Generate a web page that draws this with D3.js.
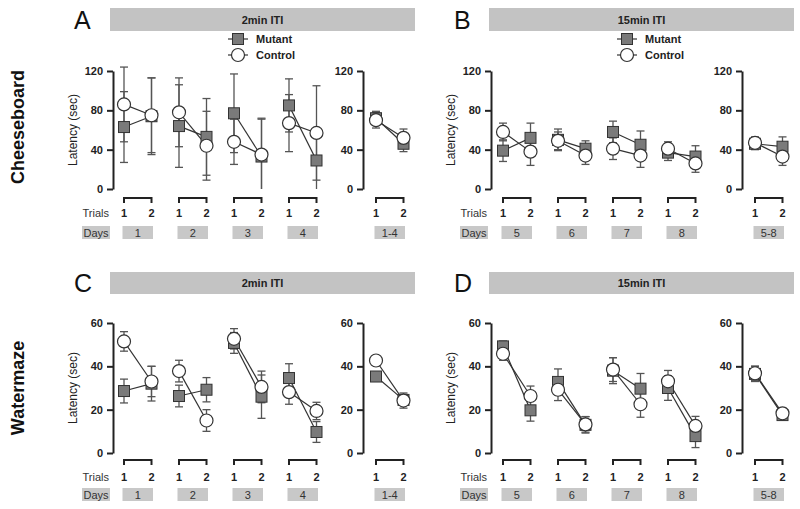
<!DOCTYPE html>
<html><head><meta charset="utf-8">
<script src="https://cdn.jsdelivr.net/npm/d3@7"></script>
<style>body{margin:0;background:#fff}svg{display:block}text{font-family:Arial,"Liberation Sans",Helvetica,sans-serif}</style>
</head><body>
<svg id="c" width="800" height="509"></svg>
<script>
// ---------------- DATA ----------------
const trialLabels = ["1", "2"];
const daysEarly = ["1", "2", "3", "4"];
const daysLate = ["5", "6", "7", "8"];
const summaryEarly = "1-4";
const summaryLate = "5-8";
const seriesNames = ["Mutant", "Control"];
const itiLabels = ["2min ITI", "15min ITI"];
const rowLabels = ["Cheeseboard", "Watermaze"];
const cheeseTicks = [0, 40, 80, 120];
const waterTicks = [0, 20, 40, 60];

// Cheeseboard 2min ITI (days 1-4, trial 1/2 per day)
const cbMutant2 = [63, 74, 64, 53, 77, 33, 85, 29];
const cbMutant2Err = [36, 39, 42, 39, 40, 38, 27, 30];
const cbControl2 = [86, 75, 78, 44, 48, 35, 67, 57];
const cbControl2Err = [38, 38, 35, 35, 23, 37, 29, 48];
const cbMutant2Sum = [72, 46], cbMutant2SumErr = [7, 8];
const cbControl2Sum = [70, 52], cbControl2SumErr = [8, 9];

// Cheeseboard 15min ITI (days 5-8)
const cbMutant15 = [39, 52, 50, 41, 58, 45, 37, 33];
const cbMutant15Err = [11, 15, 11, 8, 11, 14, 8, 11];
const cbControl15 = [58, 38, 49, 34, 41, 34, 41, 26];
const cbControl15Err = [9, 14, 9, 9, 11, 12, 7, 9];
const cbMutant15Sum = [46, 43], cbMutant15SumErr = [6, 10];
const cbControl15Sum = [47, 33], cbControl15SumErr = [6, 9];

// Watermaze 2min ITI (days 1-4)
const wmMutant2 = [28.6, 32, 26.3, 29.2, 50.8, 26, 34.6, 9.7];
const wmMutant2Err = [5.5, 8, 5, 5.6, 4.8, 10, 6.6, 4.8];
const wmControl2 = [51.5, 33, 37.8, 15, 52.7, 30.5, 28.1, 19.4];
const wmControl2Err = [4.5, 7, 5, 5, 4.7, 7.3, 5.6, 4];
const wmMutant2Sum = [35.3, 24.5], wmMutant2SumErr = [2, 2.5];
const wmControl2Sum = [42.7, 24.2], wmControl2SumErr = [2, 3.5];

// Watermaze 15min ITI (days 5-8)
const wmMutant15 = [49.2, 19.7, 32.8, 13, 38, 29.7, 30, 7.8];
const wmMutant15Err = [2.5, 5, 6, 3.8, 6, 7, 5.7, 5.3];
const wmControl15 = [45.8, 26.3, 29.2, 13.2, 38.5, 22.5, 33.1, 12.5];
const wmControl15Err = [3, 4.6, 5, 3.6, 5.5, 6, 5, 4.4];
const wmMutant15Sum = [36.5, 17.5], wmMutant15SumErr = [3.5, 2];
const wmControl15Sum = [36.8, 18.3], wmControl15SumErr = [3.3, 2.5];

// ---------------- DRAW ----------------
const svg = d3.select("#c");
const INK = "#222", BOXC = "#c8c8c8", BARC = "#c3c3c3";

function drawPlot(g, o) {
  const n = o.mutant.length;
  const x = d3.scaleLinear().domain([0, n - 1]).range([o.firstX, o.firstX + o.step * (n - 1)]);
  const y = d3.scaleLinear().domain([0, o.max]).range([o.yBot, o.yTop]);
  const ax = g.append("g").attr("transform", `translate(${o.axisX},0)`)
    .call(d3.axisLeft(y).tickValues(o.ticks).tickSizeOuter(0).tickSizeInner(6).tickPadding(4));
  ax.select(".domain").attr("stroke", INK).attr("stroke-width", 2);
  ax.selectAll(".tick line").attr("stroke", INK).attr("stroke-width", 2);
  ax.selectAll(".tick text").attr("fill", INK).style("font-size", "11px").style("font-weight", "bold")
    .style("font-family", "Arial, 'Liberation Sans', sans-serif");

  const series = [
    { v: o.mutant, e: o.mutErr, type: "sq" },
    { v: o.control, e: o.conErr, type: "ci" }
  ];
  series.forEach(s => {
    s.v.forEach((v, i) => {
      const lo = Math.max(0, v - s.e[i]), hi = v + s.e[i];
      const xi = x(i);
      const eg = g.append("g").attr("stroke", "#555").attr("stroke-width", 1.3);
      eg.append("line").attr("x1", xi).attr("x2", xi).attr("y1", y(lo)).attr("y2", y(hi));
      eg.append("line").attr("x1", xi - 4).attr("x2", xi + 4).attr("y1", y(hi)).attr("y2", y(hi));
      if (v - s.e[i] > 0) eg.append("line").attr("x1", xi - 4).attr("x2", xi + 4).attr("y1", y(lo)).attr("y2", y(lo));
    });
  });
  series.forEach(s => {
    for (let d = 0; d < n / 2; d++) {
      const pts = [0, 1].map(t => [x(2 * d + t), y(s.v[2 * d + t])]);
      g.append("path").attr("d", d3.line()(pts)).attr("fill", "none").attr("stroke", "#333").attr("stroke-width", 1.2);
    }
  });
  series.forEach(s => {
    s.v.forEach((v, i) => {
      if (s.type === "sq") {
        g.append("rect").attr("x", x(i) - 5.5).attr("y", y(v) - 5.5).attr("width", 11).attr("height", 11)
          .attr("fill", "#7a7a7a").attr("stroke", "#333").attr("stroke-width", 1);
      } else {
        g.append("circle").attr("cx", x(i)).attr("cy", y(v)).attr("r", 6.5)
          .attr("fill", "#fff").attr("stroke", "#333").attr("stroke-width", 1.2);
      }
    });
  });
  for (let d = 0; d < n / 2; d++) {
    const x1 = x(2 * d), x2 = x(2 * d + 1);
    g.append("path").attr("d", `M${x1},${o.bracketY + 5}V${o.bracketY}H${x2}V${o.bracketY + 5}`)
      .attr("fill", "none").attr("stroke", INK).attr("stroke-width", 2);
    trialLabels.forEach((t, k) => {
      g.append("text").attr("x", k ? x2 : x1).attr("y", o.trialsY).attr("text-anchor", "middle")
        .style("fill", INK).style("font-size", "11px").style("font-weight", "bold").text(t);
    });
    g.append("rect").attr("x", x1 - 1.5).attr("y", o.boxY).attr("width", x2 - x1 + 3).attr("height", 13).attr("fill", BOXC);
    g.append("text").attr("x", (x1 + x2) / 2).attr("y", o.boxY + 10.5).attr("text-anchor", "middle")
      .style("fill", "#333").style("font-size", "11px").text(o.days[d]);
  }
  if (o.showLabels) {
    g.append("text").attr("x", o.axisX - 4).attr("y", o.trialsY).attr("text-anchor", "end")
      .style("fill", "#333").style("font-size", "11px").text("Trials");
    g.append("rect").attr("x", o.axisX - 31).attr("y", o.boxY).attr("width", 28).attr("height", 13).attr("fill", BOXC);
    g.append("text").attr("x", o.axisX - 17).attr("y", o.boxY + 10.5).attr("text-anchor", "middle")
      .style("fill", "#333").style("font-size", "11px").text("Days");
    g.append("text").attr("transform", `translate(${o.axisX - 36},${(o.yTop + o.yBot) / 2}) rotate(-90)`)
      .attr("text-anchor", "middle").style("fill", INK).style("font-size", "12px").text("Latency (sec)");
  }
}

function drawLegend(g, lx, ly) {
  seriesNames.forEach((nm, k) => {
    const yy = ly + k * 16;
    g.append("line").attr("x1", lx - 10).attr("x2", lx + 10).attr("y1", yy).attr("y2", yy).attr("stroke", "#333").attr("stroke-width", 1.2);
    if (k === 0) g.append("rect").attr("x", lx - 5.5).attr("y", yy - 5.5).attr("width", 11).attr("height", 11)
      .attr("fill", "#7a7a7a").attr("stroke", "#333");
    else g.append("circle").attr("cx", lx).attr("cy", yy).attr("r", 6.5).attr("fill", "#fff").attr("stroke", "#333").attr("stroke-width", 1.2);
    g.append("text").attr("x", lx + 18).attr("y", yy + 4).style("fill", INK)
      .style("font-size", "11px").style("font-weight", "bold").text(nm);
  });
}

const rows = [
  { yTop: 71, yBot: 189, max: 120, ticks: cheeseTicks, barY: 8, barH: 23, bracketY: 198, trialsY: 217, boxY: 226,
    letters: ["A", "B"], letterY: 29, label: rowLabels[0], labelY: 127, legend: true,
    data: [[cbMutant2, cbMutant2Err, cbControl2, cbControl2Err, cbMutant2Sum, cbMutant2SumErr, cbControl2Sum, cbControl2SumErr],
           [cbMutant15, cbMutant15Err, cbControl15, cbControl15Err, cbMutant15Sum, cbMutant15SumErr, cbControl15Sum, cbControl15SumErr]] },
  { yTop: 323, yBot: 453, max: 60, ticks: waterTicks, barY: 272, barH: 22, bracketY: 460, trialsY: 481, boxY: 488,
    letters: ["C", "D"], letterY: 292, label: rowLabels[1], labelY: 388, legend: false,
    data: [[wmMutant2, wmMutant2Err, wmControl2, wmControl2Err, wmMutant2Sum, wmMutant2SumErr, wmControl2Sum, wmControl2SumErr],
           [wmMutant15, wmMutant15Err, wmControl15, wmControl15Err, wmMutant15Sum, wmMutant15SumErr, wmControl15Sum, wmControl15SumErr]] }
];
const cols = [
  { axisX: 113, firstX: 124, sumAxisX: 363, barX: 110, barW: 305, letterX: 74, legendX: 238, days: daysEarly, sumDay: summaryEarly, iti: itiLabels[0] },
  { axisX: 491, firstX: 503, sumAxisX: 742, barX: 489, barW: 305, letterX: 454, legendX: 627, days: daysLate, sumDay: summaryLate, iti: itiLabels[1] }
];

rows.forEach(r => {
  svg.append("text").attr("transform", `translate(24,${r.labelY}) rotate(-90)`).attr("text-anchor", "middle")
    .style("fill", "#111").style("font-size", "18px").style("font-weight", "bold").text(r.label);
  cols.forEach((c, ci) => {
    const g = svg.append("g");
    const dd = r.data[ci];
    g.append("rect").attr("x", c.barX).attr("y", r.barY).attr("width", c.barW).attr("height", r.barH).attr("fill", BARC);
    g.append("text").attr("x", c.barX + c.barW / 2).attr("y", r.barY + r.barH / 2 + 4).attr("text-anchor", "middle")
      .style("fill", "#222").style("font-size", "11px").style("font-weight", "bold").text(c.iti);
    g.append("text").attr("x", c.letterX).attr("y", r.letterY).style("fill", "#111").style("font-size", "25px").text(r.letters[ci]);
    if (r.legend) drawLegend(g, c.legendX, 39);
    const common = { yTop: r.yTop, yBot: r.yBot, max: r.max, ticks: r.ticks, bracketY: r.bracketY, trialsY: r.trialsY, boxY: r.boxY, step: 27.5 };
    drawPlot(g, Object.assign({}, common, { axisX: c.axisX, firstX: c.firstX, days: c.days,
      mutant: dd[0], mutErr: dd[1], control: dd[2], conErr: dd[3], showLabels: true }));
    drawPlot(g, Object.assign({}, common, { axisX: c.sumAxisX, firstX: c.sumAxisX + 13, days: [c.sumDay],
      mutant: dd[4], mutErr: dd[5], control: dd[6], conErr: dd[7], showLabels: false }));
  });
});
</script>
</body></html>
